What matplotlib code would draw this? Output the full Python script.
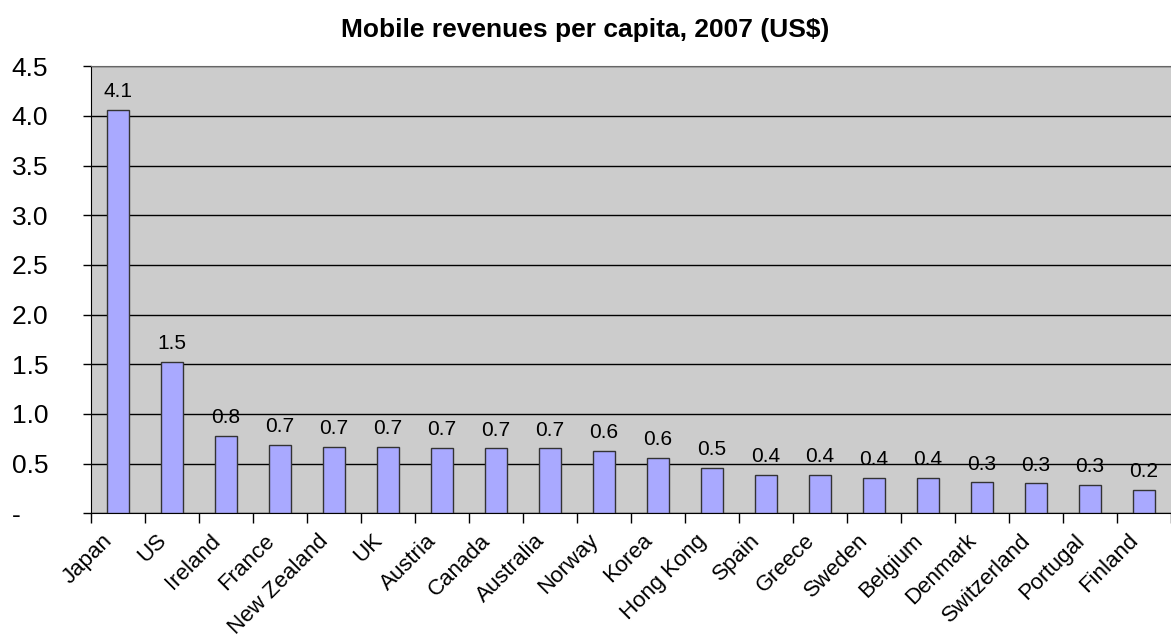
import numpy as np
import matplotlib.pyplot as plt
from matplotlib.transforms import ScaledTranslation

plt.rcParams['font.family'] = ['Liberation Sans', 'DejaVu Sans']

countries = ['Japan', 'US', 'Ireland', 'France', 'New Zealand', 'UK', 'Austria',
             'Canada', 'Australia', 'Norway', 'Korea', 'Hong Kong', 'Spain', 'Greece',
             'Sweden', 'Belgium', 'Denmark', 'Switzerland', 'Portugal', 'Finland']
revenue = [4.06, 1.52, 0.78, 0.69, 0.67, 0.67, 0.66,
           0.652, 0.652, 0.63, 0.56, 0.452, 0.39, 0.385,
           0.355, 0.355, 0.31, 0.30, 0.28, 0.23]
yticks = [0, 0.5, 1.0, 1.5, 2.0, 2.5, 3.0, 3.5, 4.0, 4.5]
ylabels = ['-'] + ['%.1f' % v for v in yticks[1:]]

fig = plt.figure(figsize=(11.71, 6.36), dpi=100)
ax = fig.add_axes([0.0777, 0.193, 0.9223, 0.703])
ax.set_facecolor('#cccccc')

x = np.arange(len(countries))
ax.bar(x, revenue, width=0.41, color='#a9a9ff', edgecolor='#333333', linewidth=1, zorder=3)
for xi, v in zip(x, revenue):
    ax.text(xi, v + 0.09, '%.1f' % v, ha='center', va='bottom', fontsize=15, zorder=4)

ax.set_xlim(-0.5, len(countries) - 0.5)
ax.set_ylim(0, 4.5)
ax.set_yticks(yticks)
ax.set_yticklabels(ylabels, fontsize=19)
ax.yaxis.grid(True, color='#000000', linewidth=1, zorder=1)
ax.tick_params(axis='y', length=6, width=1, pad=51)
for lbl in ax.get_yticklabels():
    lbl.set_horizontalalignment('left')

ax.set_xticks(np.arange(len(countries) + 1) - 0.5)
ax.set_xticklabels([])
ax.set_xticks(x, minor=True)
ax.set_xticklabels(countries, minor=True, rotation=45, ha='right', va='top',
                   rotation_mode='anchor', fontsize=16)
ax.tick_params(axis='x', which='major', length=7, width=1)
ax.tick_params(axis='x', which='minor', length=0, pad=10)
shift = ScaledTranslation(-16 / 100, -3 / 100, fig.dpi_scale_trans)
for lbl in ax.get_xticklabels(minor=True):
    lbl.set_transform(lbl.get_transform() + shift)

ax.spines['right'].set_visible(False)
ax.spines['top'].set_color('#666666')
ax.spines['left'].set_color('#000000')
ax.spines['bottom'].set_color('#000000')

fig.suptitle('Mobile revenues per capita, 2007 (US$)', fontsize=19, fontweight='bold', y=0.972)

fig.savefig('out.png', dpi=100)
